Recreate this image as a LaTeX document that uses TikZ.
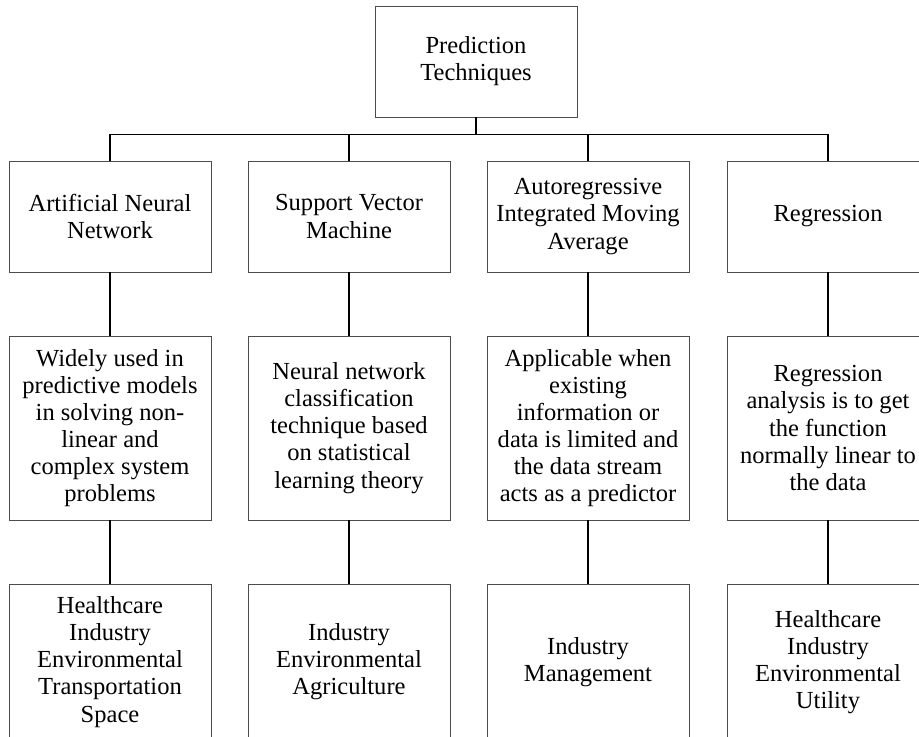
\documentclass[tikz,border=0pt]{standalone}
\usepackage{fontspec}
\setmainfont{Liberation Serif}
\usepackage{tikz}
\usetikzlibrary{positioning}

\begin{document}
\begin{tikzpicture}[x=0.75pt, y=-0.75pt,
        box/.style = {draw=black!70, line width=0.7pt, rectangle, minimum width=151.5pt, align=center, inner sep=0pt, font=\fontsize{18.4}{20.3}\selectfont},
        head/.style = {box, minimum height=83.25pt},
        info/.style = {box, minimum height=138pt},
        app/.style = {box, minimum height=117pt},
        link/.style = {line width=1.1pt, black}]

    \clip (0,0) rectangle (919,736);

    % Top
    \node[head] (root) at (476, 61.5) {Prediction\\Techniques};

    % Techniques
    \node[head] (ann) at (110, 216.5) {Artificial Neural\\Network};
    \node[head] (svm) at (349, 216.5) {Support Vector\\Machine};
    \node[head] (arima) at (588, 216.5) {Autoregressive\\Integrated Moving\\Average};
    \node[head] (reg) at (828, 216.5) {Regression};

    % Descriptions
    \node[info] (annuse) at (110, 428) {Widely used in\\predictive models\\in solving non-\\linear and\\complex system\\problems};
    \node[info] (svmuse) at (349, 428) {Neural network\\classification\\technique based\\on statistical\\learning theory};
    \node[info] (arimause) at (588, 428) {Applicable when\\existing\\information or\\data is limited and\\the data stream\\acts as a predictor};
    \node[info] (reguse) at (828, 428) {Regression\\analysis is to get\\the function\\normally linear to\\the data};

    % Applications
    \node[app] (annapp) at (110, 662) {Healthcare\\Industry\\Environmental\\Transportation\\Space};
    \node[app] (svmapp) at (349, 662) {Industry\\Environmental\\Agriculture};
    \node[app] (arimaapp) at (588, 662) {Industry\\Management};
    \node[app] (regapp) at (828, 662) {Healthcare\\Industry\\Environmental\\Utility};

    \foreach \x in {ann,svm,arima,reg} {
        \draw[link] (root.south) -- ++(0,17) -| (\x.north);
        \draw[link] (\x) -- (\x use);
        \draw[link] (\x use) -- (\x app);
    }
\end{tikzpicture}
\end{document}
